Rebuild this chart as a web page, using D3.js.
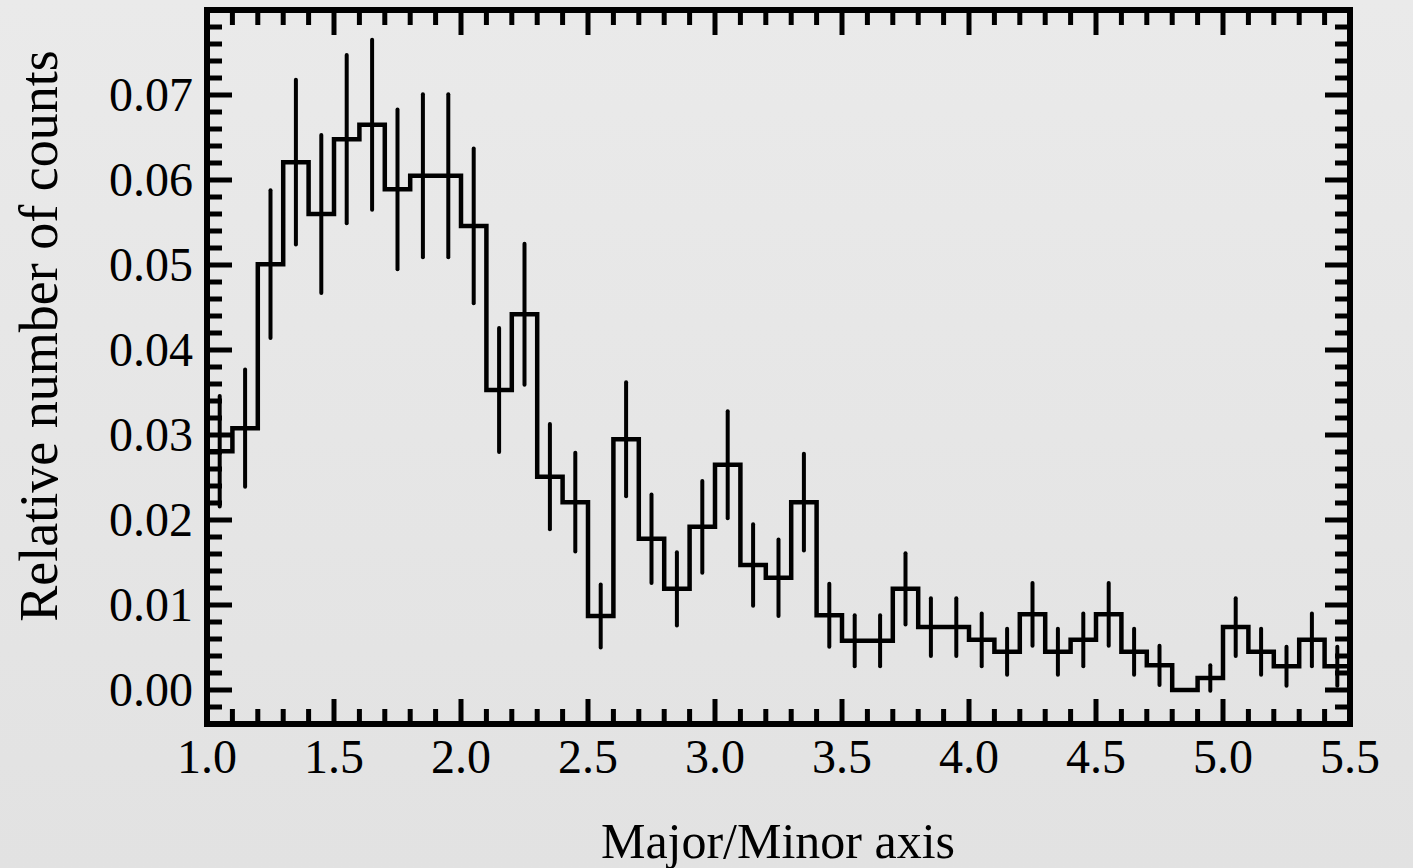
<!DOCTYPE html>
<html>
<head>
<meta charset="utf-8">
<script src="https://cdn.jsdelivr.net/npm/d3@7"></script>
<style>
  html, body { margin: 0; padding: 0; background: #e6e6e6; }
  svg { display: block; }
  text { font-family: "Liberation Serif", "Times New Roman", serif; fill: #000; }
</style>
</head>
<body>
<svg id="chart" width="1413" height="868"></svg>
<script>
// Histogram bins (lower edge of each 0.1-wide bin of the axis ratio)
const binStart = [1.0, 1.1, 1.2, 1.3, 1.4, 1.5, 1.6, 1.7, 1.8, 1.9,
                  2.0, 2.1, 2.2, 2.3, 2.4, 2.5, 2.6, 2.7, 2.8, 2.9,
                  3.0, 3.1, 3.2, 3.3, 3.4, 3.5, 3.6, 3.7, 3.8, 3.9,
                  4.0, 4.1, 4.2, 4.3, 4.4, 4.5, 4.6, 4.7, 4.8, 4.9,
                  5.0, 5.1, 5.2, 5.3, 5.4];
const binWidth = 0.1;

// Relative number of counts in each bin
const relCounts = [0.0281, 0.0308, 0.0501, 0.0621, 0.0560, 0.0648, 0.0665, 0.0589, 0.0605, 0.0605,
                   0.0546, 0.0353, 0.0442, 0.0251, 0.0221, 0.0087, 0.0295, 0.0178, 0.0119, 0.0192,
                   0.0265, 0.0147, 0.0132, 0.0221, 0.0088, 0.0058, 0.0058, 0.0119, 0.0074, 0.0074,
                   0.0059, 0.0045, 0.0089, 0.0045, 0.0059, 0.0089, 0.0045, 0.0029, 0.0000, 0.0014,
                   0.0074, 0.0045, 0.0028, 0.0059, 0.0028];

// Half-length of the error bar drawn on each bin
const relErrors = [0.0065, 0.0069, 0.0087, 0.0097, 0.0093, 0.0099, 0.0100, 0.0094, 0.0096, 0.0096,
                   0.0091, 0.0073, 0.0083, 0.0062, 0.0058, 0.0037, 0.0067, 0.0052, 0.0043, 0.0054,
                   0.0063, 0.0048, 0.0045, 0.0057, 0.0037, 0.0030, 0.0030, 0.0042, 0.0034, 0.0034,
                   0.0031, 0.0027, 0.0037, 0.0027, 0.0031, 0.0037, 0.0027, 0.0023, 0.0000, 0.0015,
                   0.0034, 0.0027, 0.0023, 0.0031, 0.0023];

// Axis extents and labelled ticks
const xDomain = [1.0, 5.5];
const yDomain = [-0.004, 0.080];
const xMajorTicks = [1.0, 1.5, 2.0, 2.5, 3.0, 3.5, 4.0, 4.5, 5.0, 5.5];
const yMajorTicks = [0.00, 0.01, 0.02, 0.03, 0.04, 0.05, 0.06, 0.07];
const xMinorStep = 0.1;
const yMinorStep = 0.002;

const xTitle = "Major/Minor axis";
const yTitle = "Relative number of counts";

const W = 1413, H = 868;
const plot = { left: 207, right: 1350, top: 10, bottom: 724 };

const svg = d3.select("#chart");

// soft grey backdrop
const defs = svg.append("defs");
const grad = defs.append("linearGradient")
  .attr("id", "bg").attr("x1", 0).attr("y1", 0).attr("x2", 0).attr("y2", 1);
grad.append("stop").attr("offset", "0%").attr("stop-color", "#eaeaea");
grad.append("stop").attr("offset", "100%").attr("stop-color", "#e2e2e2");
svg.append("rect").attr("width", W).attr("height", H).attr("fill", "url(#bg)");

const x = d3.scaleLinear().domain(xDomain).range([plot.left, plot.right]);
const y = d3.scaleLinear().domain(yDomain).range([plot.bottom, plot.top]);

// minor tick positions (skip those that coincide with majors or the frame)
const near = (a, b) => Math.abs(a - b) < 1e-9;
const xMinor = d3.range(Math.round((xDomain[1] - xDomain[0]) / xMinorStep) + 1)
  .map(i => +(xDomain[0] + i * xMinorStep).toFixed(4))
  .filter(v => !xMajorTicks.some(m => near(m, v)));
const yMinor = d3.range(Math.round((yDomain[1] - yDomain[0]) / yMinorStep) + 1)
  .map(i => +(yDomain[0] + i * yMinorStep).toFixed(4))
  .filter(v => !yMajorTicks.some(m => near(m, v)) && v > yDomain[0] + 1e-9 && v < yDomain[1] - 1e-9);

const MAJOR = 25, MINOR = 15, TICKW = 5;
const ticks = svg.append("g").attr("stroke", "#000").attr("stroke-width", TICKW);

function xTicks(vals, len) {
  vals.forEach(v => {
    const px = x(v);
    ticks.append("line").attr("x1", px).attr("x2", px)
      .attr("y1", plot.bottom).attr("y2", plot.bottom - len);
    ticks.append("line").attr("x1", px).attr("x2", px)
      .attr("y1", plot.top).attr("y2", plot.top + len);
  });
}
function yTicks(vals, len) {
  vals.forEach(v => {
    const py = y(v);
    ticks.append("line").attr("y1", py).attr("y2", py)
      .attr("x1", plot.left).attr("x2", plot.left + len);
    ticks.append("line").attr("y1", py).attr("y2", py)
      .attr("x1", plot.right).attr("x2", plot.right - len);
  });
}
xTicks(xMajorTicks, MAJOR);
xTicks(xMinor, MINOR);
yTicks(yMajorTicks, MAJOR);
yTicks(yMinor, MINOR);

// stepped histogram outline
const stepPts = [[binStart[0], 0]];
binStart.forEach((b, i) => {
  stepPts.push([b, relCounts[i]]);
  stepPts.push([b + binWidth, relCounts[i]]);
});
stepPts.push([binStart[binStart.length - 1] + binWidth, 0]);

svg.append("path")
  .datum(stepPts)
  .attr("fill", "none")
  .attr("stroke", "#000")
  .attr("stroke-width", 4.5)
  .attr("stroke-linejoin", "miter")
  .attr("d", d3.line().x(d => x(d[0])).y(d => y(d[1])));

// vertical error bars at bin centres
svg.append("g")
  .selectAll("line")
  .data(binStart.map((b, i) => ({ c: b + binWidth / 2, v: relCounts[i], e: relErrors[i] }))
    .filter(d => d.e > 0))
  .join("line")
  .attr("x1", d => x(d.c)).attr("x2", d => x(d.c))
  .attr("y1", d => y(d.v - d.e)).attr("y2", d => y(d.v + d.e))
  .attr("stroke", "#000")
  .attr("stroke-width", 4)
  .attr("stroke-linecap", "round");

// plot frame
svg.append("rect")
  .attr("x", plot.left).attr("y", plot.top)
  .attr("width", plot.right - plot.left).attr("height", plot.bottom - plot.top)
  .attr("fill", "none").attr("stroke", "#000").attr("stroke-width", 6);

// tick labels
const fmtX = d3.format(".1f"), fmtY = d3.format(".2f");
svg.append("g").selectAll("text")
  .data(xMajorTicks).join("text")
  .attr("x", d => x(d)).attr("y", 773)
  .attr("text-anchor", "middle")
  .attr("font-size", 48)
  .text(fmtX);

svg.append("g").selectAll("text")
  .data(yMajorTicks).join("text")
  .attr("x", 193).attr("y", d => y(d))
  .attr("dy", "0.34em")
  .attr("text-anchor", "end")
  .attr("font-size", 48)
  .text(fmtY);

// axis titles
svg.append("text")
  .attr("x", 778).attr("y", 858)
  .attr("text-anchor", "middle")
  .attr("font-size", 50)
  .text(xTitle);

svg.append("text")
  .attr("transform", "translate(57,336) rotate(-90)")
  .attr("text-anchor", "middle")
  .attr("font-size", 54)
  .text(yTitle);
</script>
</body>
</html>
